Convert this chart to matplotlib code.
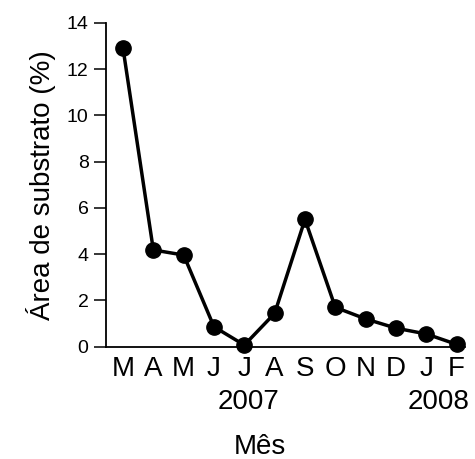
import matplotlib.pyplot as plt

plt.rcParams['font.family'] = ['Liberation Sans', 'DejaVu Sans']

months = ["M", "A", "M", "J", "J", "A", "S", "O", "N", "D", "J", "F"]
area = [12.9, 4.18, 3.96, 0.86, 0.07, 1.44, 5.5, 1.7, 1.2, 0.8, 0.55, 0.1]
yticks = [0, 2, 4, 6, 8, 10, 12, 14]

fig = plt.figure(figsize=(4.75, 4.59), dpi=100)
ax = fig.add_axes([0.2232, 0.2447, 0.756, 0.7058])

x = list(range(len(months)))
ax.plot(x, area, color="black", linewidth=2.5, marker="o", markersize=11,
        clip_on=False, zorder=3)

ax.set_xlim(-0.56, 11.28)
ax.set_ylim(0, 14)
ax.set_yticks(yticks)
ax.set_xticks(x)
ax.set_xticklabels(months, fontsize=20)
ax.tick_params(axis="x", length=0, pad=7)
ax.tick_params(axis="y", length=8.6, width=1.1, labelsize=14, pad=4)

for side in ("top", "right"):
    ax.spines[side].set_visible(False)
for side in ("left", "bottom"):
    ax.spines[side].set_linewidth(1.3)

ax.set_ylabel("Área de substrato (%)", fontsize=20, labelpad=8)

# year markers under the month labels
ax.text(4.15, -0.17, "2007", transform=ax.get_xaxis_transform(),
        ha="center", va="center", fontsize=20)
ax.text(10.4, -0.17, "2008", transform=ax.get_xaxis_transform(),
        ha="center", va="center", fontsize=20)
ax.text(4.5, -0.31, "Mês", transform=ax.get_xaxis_transform(),
        ha="center", va="center", fontsize=20)

fig.savefig("out.png", dpi=100)
